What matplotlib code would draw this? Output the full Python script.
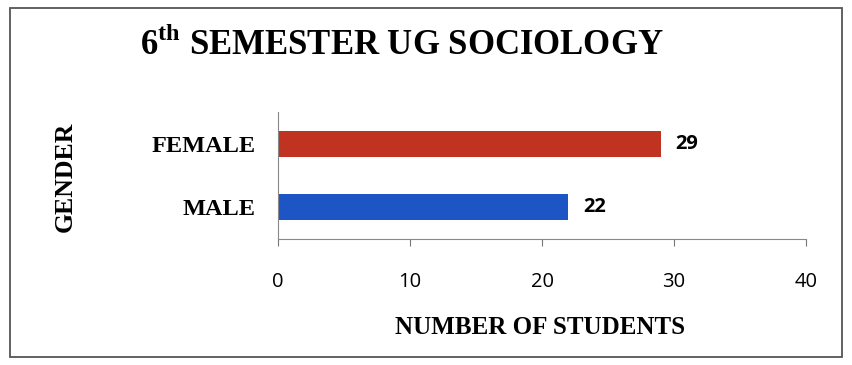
import matplotlib.pyplot as plt
from matplotlib.patches import Rectangle

# chart data
genders = ['MALE', 'FEMALE']
students = [22, 29]
bar_colors = ['#1d56c4', '#bf3320']
x_ticks = [0, 10, 20, 30, 40]

serif = 'Liberation Serif'
sans = 'Open Sans'
plt.rcParams['mathtext.fontset'] = 'custom'
plt.rcParams['mathtext.rm'] = 'Liberation Serif:bold'

fig = plt.figure(figsize=(8.52, 3.65), dpi=100)
fig.patch.set_facecolor('white')

# outer border of the chart box
fig.patches.append(Rectangle((10 / 852, 1 - 357 / 365), 832 / 852, 349 / 365,
                             transform=fig.transFigure, fill=False,
                             edgecolor='#555555', linewidth=1.3))

ax = fig.add_axes([278 / 852, 1 - 239 / 365, 528 / 852, 127 / 365])
ypos = range(len(genders))
bars = ax.barh(ypos, students, height=0.41, color=bar_colors)
ax.set_xlim(0, 40)
ax.set_ylim(-0.5, 1.5)
ax.set_xticks(x_ticks)
ax.set_xticklabels([str(t) for t in x_ticks], fontfamily=sans, fontsize=14.5)
ax.set_yticks(list(ypos))
ax.set_yticklabels(genders, fontfamily=serif, fontweight='bold', fontsize=17.5)
ax.tick_params(axis='x', direction='out', length=5, pad=19, color='#777777')
ax.tick_params(axis='y', length=0, pad=16)

for side in ['top', 'right']:
    ax.spines[side].set_visible(False)
ax.spines['left'].set_color('#888888')
ax.spines['bottom'].set_color('#888888')

for b, v in zip(bars, students):
    ax.text(v + 1.1, b.get_y() + b.get_height() / 2, str(v), va='center', ha='left',
            fontfamily=sans, fontweight='bold', fontsize=14.5)

fig.text(0.472, 1 - 45 / 365, '6$^{\\mathrm{th}}$ SEMESTER UG SOCIOLOGY',
         ha='center', va='center', fontfamily=serif, fontweight='bold', fontsize=25)
fig.text(65 / 852, 1 - 177 / 365, 'GENDER', rotation=90, ha='center', va='center',
         fontfamily=serif, fontweight='bold', fontsize=18.5)
fig.text(540 / 852, 1 - 328 / 365, 'NUMBER OF STUDENTS', ha='center', va='center',
         fontfamily=serif, fontweight='bold', fontsize=18)

fig.savefig('out.png', dpi=100)
